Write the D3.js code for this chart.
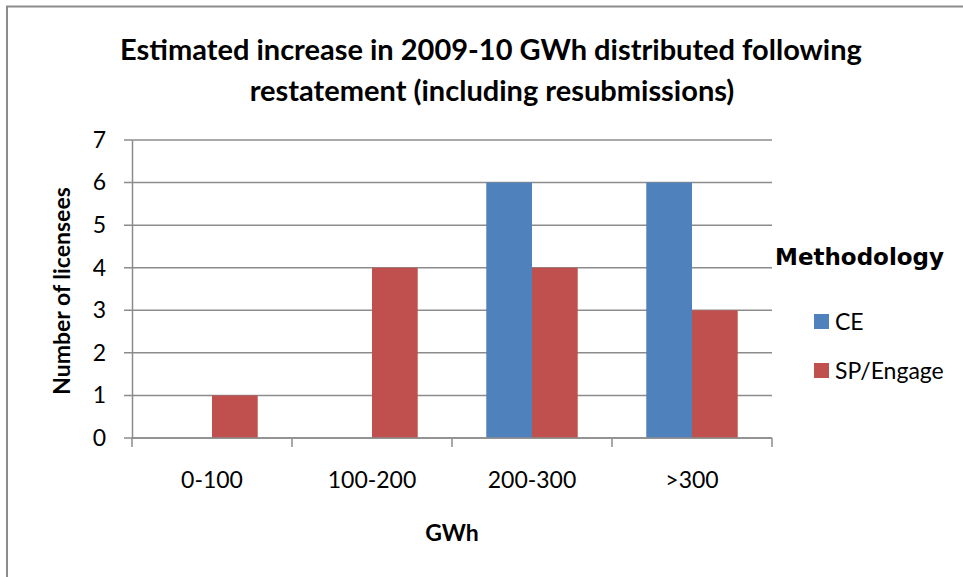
<!DOCTYPE html>
<html>
<head>
<meta charset="utf-8">
<script src="https://cdn.jsdelivr.net/npm/d3@7"></script>
<style>
  body { margin: 0; background: #fff; }
  text { font-family: Lato, "Open Sans", sans-serif; fill: #000; }
</style>
</head>
<body>
<div id="chart"></div>
<script>
// data
const categories = ["0-100", "100-200", "200-300", ">300"];
const seriesNames = ["CE", "SP/Engage"];
const ceValues = [0, 0, 6, 6];
const spValues = [1, 4, 4, 3];
const yTicks = [0, 1, 2, 3, 4, 5, 6, 7];
const colors = ["#4F81BD", "#C0504D"];

const W = 963, H = 577;
const plot = { left: 132, right: 772, top: 140, bottom: 438 };

const svg = d3.select("#chart")
  .append("svg")
  .attr("width", W)
  .attr("height", H);

svg.append("rect").attr("width", W).attr("height", H).attr("fill", "#fff");

// outer frame (only top and left edges show)
svg.append("path")
  .attr("d", `M7,${H} L7,6.5 L${W},6.5`)
  .attr("fill", "none")
  .attr("stroke", "#8c8c8c")
  .attr("stroke-width", 2);

const x0 = d3.scaleBand()
  .domain(categories)
  .range([plot.left, plot.right]);

const x1 = d3.scaleBand()
  .domain(seriesNames)
  .range([0, x0.bandwidth()])
  .paddingInner(0)
  .paddingOuter(0.75);

const y = d3.scaleLinear()
  .domain([0, 7])
  .range([plot.bottom, plot.top]);

// gridlines
svg.append("g")
  .selectAll("line")
  .data(yTicks)
  .enter()
  .append("line")
  .attr("x1", plot.left - 8)
  .attr("x2", plot.right)
  .attr("y1", d => y(d))
  .attr("y2", d => y(d))
  .attr("stroke", "#8c8c8c")
  .attr("stroke-width", 1.5);

// y axis
const yAxis = d3.axisLeft(y)
  .tickValues(yTicks)
  .tickFormat(d3.format("d"))
  .tickSize(0)
  .tickPadding(26);

const yAxisDraw = svg.append("g")
  .attr("transform", `translate(${plot.left},0)`)
  .call(yAxis);
yAxisDraw.select(".domain").attr("stroke", "#8c8c8c").attr("stroke-width", 1.5);
yAxisDraw.selectAll("text")
  .style("font-size", "23px")
  .style("font-family", "Lato, sans-serif")
  .attr("fill", "#000");

// bars
const rows = categories.map((c, i) => ({ cat: c, vals: [ceValues[i], spValues[i]] }));

svg.append("g")
  .selectAll("g")
  .data(rows)
  .enter()
  .append("g")
  .attr("transform", d => `translate(${x0(d.cat)},0)`)
  .selectAll("rect")
  .data(d => d.vals.map((v, k) => ({ name: seriesNames[k], v: v, k: k })))
  .enter()
  .append("rect")
  .attr("x", d => x1(d.name))
  .attr("y", d => y(d.v))
  .attr("width", x1.bandwidth())
  .attr("height", d => y(0) - y(d.v))
  .attr("fill", d => colors[d.k]);

// x axis
const xAxis = d3.axisBottom(x0)
  .tickSize(0)
  .tickPadding(34);

const xAxisDraw = svg.append("g")
  .attr("transform", `translate(0,${plot.bottom})`)
  .call(xAxis);
xAxisDraw.select(".domain").remove();
xAxisDraw.selectAll("text")
  .style("font-size", "23px")
  .style("font-family", "Lato, sans-serif")
  .attr("fill", "#000");

svg.append("line")
  .attr("x1", plot.left).attr("x2", plot.right)
  .attr("y1", plot.bottom).attr("y2", plot.bottom)
  .attr("stroke", "#8c8c8c").attr("stroke-width", 1.5);

// category boundary ticks
const bounds = categories.map(c => x0(c)).concat([plot.right]);
svg.append("g")
  .selectAll("line")
  .data(bounds)
  .enter()
  .append("line")
  .attr("x1", d => d).attr("x2", d => d)
  .attr("y1", plot.bottom).attr("y2", plot.bottom + 9)
  .attr("stroke", "#8c8c8c").attr("stroke-width", 1.5);

// titles
const title = svg.append("text")
  .attr("text-anchor", "middle")
  .style("font-size", "29px")
  .style("font-weight", "bold");
title.append("tspan").attr("x", 491).attr("y", 60)
  .text("Estimated increase in 2009-10 GWh distributed following");
title.append("tspan").attr("x", 492).attr("y", 101)
  .text("restatement (including resubmissions)");

svg.append("text")
  .attr("transform", "translate(70,291) rotate(-90)")
  .attr("text-anchor", "middle")
  .style("font-size", "23px")
  .style("font-weight", "bold")
  .text("Number of licensees");

svg.append("text")
  .attr("x", 452).attr("y", 541)
  .attr("text-anchor", "middle")
  .style("font-size", "23px")
  .style("font-weight", "bold")
  .text("GWh");

// legend
svg.append("text")
  .attr("x", 775).attr("y", 265)
  .style("font-size", "23px")
  .style("font-weight", "bold")
  .style("font-family", "\"DejaVu Sans\", sans-serif")
  .text("Methodology");

const legend = svg.append("g")
  .selectAll("g")
  .data(seriesNames)
  .enter()
  .append("g")
  .attr("transform", (d, i) => `translate(814,${314 + i * 49})`);

legend.append("rect")
  .attr("width", 15).attr("height", 15)
  .attr("fill", (d, i) => colors[i]);

legend.append("text")
  .attr("x", 21).attr("y", 15.5)
  .style("font-size", "23px")
  .text(d => d);
</script>
</body>
</html>
